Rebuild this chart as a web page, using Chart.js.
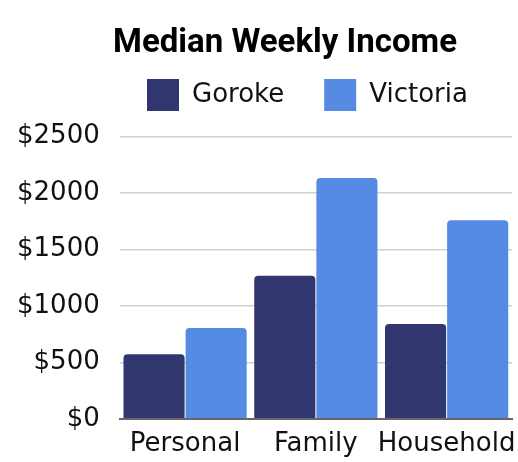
<!DOCTYPE html>
<html>
<head>
<meta charset="utf-8">
<script src="https://cdn.jsdelivr.net/npm/chart.js@4"></script>
<style>
  html, body { margin: 0; padding: 0; background: #fff; }
</style>
</head>
<body>
<canvas id="incomeChart" width="518" height="462"></canvas>
<script>
const categories = ['Personal', 'Family', 'Household'];
const gorokeValues = [571, 1268, 839];
const victoriaValues = [804, 2134, 1759];
const yTicks = [0, 500, 1000, 1500, 2000, 2500];

// put title and legend where the original has them (layout only reserves space)
const placeHeader = {
    id: 'placeHeader',
    afterUpdate(chart) {
        const t = chart.titleBlock;
        if (t) {
            const h = t.height;
            t.left = 113; t.right = 518;
            t.top = 24; t.bottom = t.top + h;
        }
        const l = chart.legend;
        if (l) {
            const h = l.height;
            l.left = 107; l.right = 518;
            l.top = 39; l.bottom = l.top + h;
        }
    }
};

const ctx = document.getElementById('incomeChart').getContext('2d');
const chart = new Chart(ctx, {
    type: 'bar',
    data: {
        labels: categories,
        datasets: [{
            label: 'Goroke',
            data: gorokeValues,
            backgroundColor: '#31366E',
            borderWidth: 0,
            borderRadius: 4,
            borderSkipped: 'start'
        }, {
            label: 'Victoria',
            data: victoriaValues,
            backgroundColor: '#568BE4',
            borderWidth: 0,
            borderRadius: 4,
            borderSkipped: 'start'
        }]
    },
    options: {
        responsive: false,
        animation: false,
        layout: { padding: { left: -3, right: 6, top: 15, bottom: -8 } },
        datasets: { bar: { categoryPercentage: 0.95, barPercentage: 0.984 } },
        plugins: {
            title: {
                display: true,
                align: 'start',
                text: 'Median Weekly Income',
                color: '#000',
                font: { family: 'Roboto', size: 33, weight: 'bold' },
                padding: 0
            },
            legend: {
                align: 'start',
                labels: {
                    color: '#111',
                    font: { family: 'DejaVu Sans', size: 26 },
                    boxWidth: 32,
                    boxHeight: 32,
                    padding: 40
                }
            },
            tooltip: { enabled: false }
        },
        scales: {
            x: {
                // "Household" may run a little past the plot edge, as in the original
                afterFit: axis => { axis.paddingRight = 0; },
                grid: { display: false, drawTicks: false },
                border: { display: true, color: '#666', width: 2 },
                ticks: {
                    color: '#111',
                    font: { family: 'DejaVu Sans', size: 26 },
                    padding: 10,
                    maxRotation: 0,
                    minRotation: 0,
                    autoSkip: false
                }
            },
            y: {
                min: 0,
                max: 2500,
                afterBuildTicks: axis => { axis.ticks = yTicks.map(v => ({ value: v })); },
                grid: { color: '#d0d0d0', lineWidth: 1.5, drawTicks: false },
                border: { display: false },
                ticks: {
                    color: '#111',
                    font: { family: 'DejaVu Sans', size: 26 },
                    padding: 20,
                    callback: v => '$' + v
                }
            }
        }
    },
    plugins: [placeHeader]
});
</script>
</body>
</html>
